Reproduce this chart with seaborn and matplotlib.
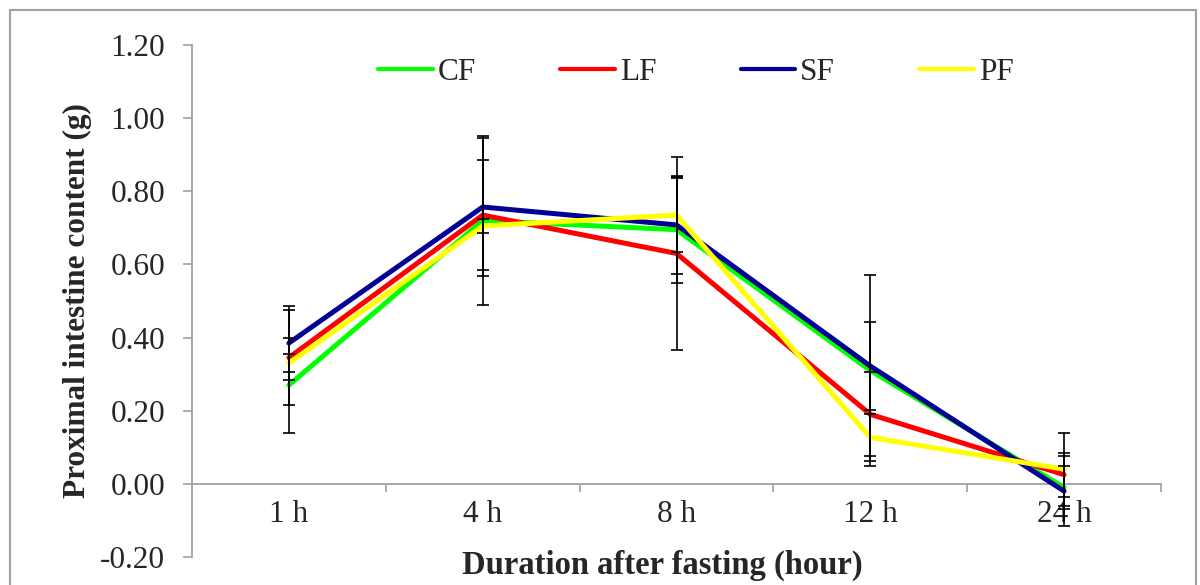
import numpy as np
import pandas as pd
import matplotlib
matplotlib.use("Agg")
import matplotlib.pyplot as plt
import seaborn as sns
from matplotlib.patches import Rectangle
from matplotlib.ticker import FixedLocator, FormatStrFormatter

# 資料
hours = ["1 h", "4 h", "8 h", "12 h", "24 h"]
groups = ["CF", "LF", "SF", "PF"]

cf = [0.27, 0.72, 0.695, 0.31, -0.01]
lf = [0.345, 0.735, 0.63, 0.19, 0.025]
sf = [0.385, 0.757, 0.708, 0.322, -0.02]
pf = [0.33, 0.705, 0.735, 0.127, 0.04]

cf_err = [0.13, 0.23, 0.145, 0.26, 0.06]
lf_err = [0.13, 0.15, 0.265, 0.115, 0.06]
sf_err = [0.10, 0.19, 0.135, 0.12, 0.095]
pf_err = [0.025, 0.02, 0.10, 0.065, 0.10]

colors = ["#00ff00", "#ff0000", "#000099", "#ffff00"]

values = [cf, lf, sf, pf]
errors = [cf_err, lf_err, sf_err, pf_err]

rows = []
for g, v, e in zip(groups, values, errors):
    for i, h in enumerate(hours):
        rows.append({"group": g, "pos": i, "hour": h, "value": v[i], "err": e[i]})
df = pd.DataFrame(rows)

sns.set_style("white")
plt.rcParams["font.family"] = ["Liberation Serif", "DejaVu Serif"]

fig = plt.figure(figsize=(12, 5.85), dpi=100)
ax = fig.add_axes([0.16, 0.048, 0.8075, 0.875])

sns.lineplot(
    data=df, x="pos", y="value", hue="group", hue_order=groups,
    palette=colors, linewidth=3.6, sort=False, ax=ax,
    solid_capstyle="round", solid_joinstyle="round", zorder=3
)

# error bars
for g in groups:
    sub = df[df["group"] == g]
    ax.errorbar(sub["pos"], sub["value"], yerr=sub["err"], fmt="none",
                ecolor="black", elinewidth=1.2, capsize=4.3, capthick=1.2, zorder=4)

ax.set_xlim(-0.5, 4.5)
ax.set_ylim(-0.2, 1.2)

gray = "#a0a0a0"
for s in ["top", "right"]:
    ax.spines[s].set_visible(False)
ax.spines["left"].set_color(gray)
ax.spines["left"].set_linewidth(1.3)
ax.spines["bottom"].set_color(gray)
ax.spines["bottom"].set_linewidth(1.3)
ax.spines["bottom"].set_position(("data", 0))

ax.set_yticks(np.arange(-0.2, 1.21, 0.2))
ax.yaxis.set_major_formatter(FormatStrFormatter("%.2f"))
ax.tick_params(axis="y", which="major", direction="out", length=6.5, width=1.2,
               color=gray, pad=13, labelsize=22.5, left=True)

ax.set_xticks(range(len(hours)))
ax.set_xticklabels(hours)
ax.xaxis.set_minor_locator(FixedLocator(np.arange(0.5, 4.6, 1.0)))
ax.tick_params(axis="x", which="major", length=0, pad=12, labelsize=22.5, bottom=True)
ax.tick_params(axis="x", which="minor", direction="out", length=6, width=1.2,
               color=gray, bottom=True)

ax.set_ylabel("Proximal intestine content (g)", fontsize=22.5, fontweight="bold", labelpad=6)
ax.set_xlabel("Duration after fasting (hour)", fontsize=23.5, fontweight="bold")
ax.xaxis.set_label_coords(0.485, 0.014)

handles, labels = ax.get_legend_handles_labels()
for h in handles:
    h.set_linewidth(3.0)
ax.legend(handles, labels, ncol=4, loc="center", bbox_to_anchor=(0.52, 0.947),
          frameon=False, fontsize=22.5, handlelength=1.75, handletextpad=0.15,
          columnspacing=2.7)

# 外框
fig.patches.append(Rectangle((10 / 1200, -0.05), 1186 / 1200, 1.05 - 10 / 585,
                             transform=fig.transFigure, fill=False,
                             edgecolor=gray, linewidth=1.5))

fig.savefig("out.png", dpi=100)
